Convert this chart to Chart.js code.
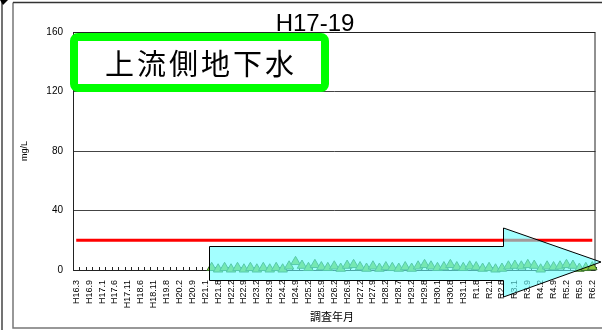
<!DOCTYPE html>
<html>
<head>
<meta charset="utf-8">
<script src="https://cdn.jsdelivr.net/npm/chart.js@4.4.1/dist/chart.umd.min.js"></script>
<style>
  html, body { margin: 0; padding: 0; background: #fff; }
  #wrap { width: 602px; height: 330px; }
</style>
</head>
<body>
<div id="wrap"><canvas id="nitrateChart" width="602" height="330"></canvas></div>
<script>
// visible labels (every other category on the axis)
const tickLabels = ['H16.3','H16.9','H17.1','H17.6','H17.11','H18.6','H18.11','H19.8','H20.2','H20.9',
  'H21.1','H21.8','H22.2','H22.9','H23.2','H23.9','H24.2','H24.9','H25.2','H25.9',
  'H26.2','H26.9','H27.2','H27.9','H28.2','H28.7','H29.2','H29.8','H30.1','H30.8',
  'H31.1','R1.8','R2.1','R2.8','R3.1','R3.9','R4.2','R4.9','R5.2','R5.9','R6.2'];

// measured values mg/L, from the category after H21.1 up to R6.2
const measured = [1.5,0.5,1.5,0.5,1.5,0.5,1.5,0.5,1.5,0.5,1.5,0.5,
  2.5,5.5,3,1.5,3.5,2,1.5,2.5,1,3,
  3.5,2,1,2.5,1,2,1.5,1,2,1,
  2.5,3.5,2.5,1.5,2,3.5,2,1.5,2.5,2,
  1,1.5,0.5,1,2.5,3,2.5,3.5,3,0.5,
  2.5,2,2.5,3.5,3,1,1.5,2];
const noDataCount = 21;     // categories before the first measurement
const standardValue = 20;   // 基準値 line
const yTicks = [0, 40, 80, 120, 160];

const categories = [];
tickLabels.forEach((lbl, k) => {
  categories.push(lbl);
  if (k < tickLabels.length - 1) categories.push('');
});
const seriesData = new Array(noDataCount).fill(null).concat(measured);

const overlay = {
  id: 'overlay',
  beforeDraw(chart) {
    const c = chart.ctx;
    c.save();
    c.fillStyle = '#fff';
    c.fillRect(0, 0, chart.width, chart.height);
    // outer frames
    c.strokeStyle = '#444';
    c.lineWidth = 1.5;
    c.beginPath(); c.moveTo(2, 0); c.lineTo(2, 330); c.stroke();
    c.strokeStyle = '#777';
    c.beginPath(); c.moveTo(13, 2.5); c.lineTo(13, 328); c.lineTo(602, 328); c.stroke();
    c.strokeStyle = '#333';
    c.beginPath(); c.moveTo(13, 2.5); c.lineTo(602, 2.5); c.stroke();
    c.fillStyle = '#000';
    c.beginPath(); c.moveTo(0, 0); c.lineTo(8, 0); c.lineTo(3, 5); c.closePath(); c.fill();
    c.restore();
  },
  beforeDatasetsDraw(chart) {
    const c = chart.ctx, a = chart.chartArea, xs = chart.scales.x;
    c.save();
    c.strokeStyle = '#222';
    c.lineWidth = 1;
    // plot border top/right, axes left/bottom
    c.beginPath();
    c.moveTo(a.left + 0.5, a.top + 0.5); c.lineTo(a.right - 0.5, a.top + 0.5); c.lineTo(a.right - 0.5, a.bottom);
    c.stroke();
    c.beginPath();
    c.moveTo(a.left + 0.5, a.top); c.lineTo(a.left + 0.5, a.bottom + 0.5); c.lineTo(a.right, a.bottom + 0.5);
    c.stroke();
    // small tick marks between categories
    const step = xs.getPixelForValue(1) - xs.getPixelForValue(0);
    for (let i = 0; i <= categories.length; i++) {
      const x = Math.round(xs.getPixelForValue(0) - step / 2 + i * step) + 0.5;
      c.beginPath(); c.moveTo(x, a.bottom); c.lineTo(x, a.bottom - 3); c.stroke();
    }
    c.restore();
  },
  afterDraw(chart) {
    const c = chart.ctx, a = chart.chartArea;
    c.save();
    // title
    c.fillStyle = '#000';
    c.font = '24px "Liberation Sans", Arial, sans-serif';
    c.textAlign = 'center';
    c.textBaseline = 'alphabetic';
    c.fillText('H17-19', 315, 30.5);
    // axis titles
    c.font = '11px "Noto Sans CJK JP", sans-serif';
    c.textBaseline = 'middle';
    c.fillText('調査年月', 332, 317);
    c.save();
    c.translate(25, (a.top + a.bottom) / 2);
    c.rotate(-Math.PI / 2);
    c.font = '9px "Liberation Sans", Arial, sans-serif';
    c.fillText('mg/L', 0, 0);
    c.restore();

    // cyan arrow
    c.beginPath();
    c.moveTo(209.5, 246.5);
    c.lineTo(503.5, 246.5);
    c.lineTo(503.5, 228);
    c.lineTo(601, 262);
    c.lineTo(503.5, 297);
    c.lineTo(503.5, 280.5);
    c.lineTo(209.5, 280.5);
    c.closePath();
    c.fillStyle = 'rgba(102,255,255,0.6)';
    c.fill();
    c.strokeStyle = '#000';
    c.lineWidth = 1;
    c.stroke();

    // green label box
    const bx = 74, by = 37, bw = 251, bh = 51, r = 4;
    c.beginPath();
    c.roundRect(bx, by, bw, bh, r);
    c.fillStyle = '#fff';
    c.fill();
    c.lineWidth = 8;
    c.strokeStyle = '#00ff00';
    c.stroke();
    c.fillStyle = '#000';
    c.font = '29px "Noto Sans CJK JP", sans-serif';
    c.textAlign = 'center';
    c.textBaseline = 'middle';
    const txt = '上流側地下水';
    const adv = 32;
    const cx = bx + bw / 2;
    for (let i = 0; i < txt.length; i++) {
      c.fillText(txt[i], cx + (i - (txt.length - 1) / 2) * adv, by + bh / 2 + 1);
    }
    c.restore();
  }
};

new Chart(document.getElementById('nitrateChart'), {
  type: 'line',
  data: {
    labels: categories,
    datasets: [
      {
        label: '硝酸性窒素',
        data: seriesData,
        borderColor: '#4f8a3c',
        borderWidth: 1,
        pointStyle: 'triangle',
        pointRadius: 5.5,
        pointBackgroundColor: '#8dc63f',
        pointBorderColor: '#3f7a2f',
        pointBorderWidth: 1,
        spanGaps: false,
        clip: false,
        order: 1
      },
      {
        label: '基準値',
        data: categories.map(() => standardValue),
        borderColor: '#ff0000',
        borderWidth: 3,
        pointRadius: 0,
        order: 2
      }
    ]
  },
  options: {
    responsive: false,
    animation: false,
    layout: { padding: { left: 0, top: 32, right: 2, bottom: 0 } },
    plugins: { legend: { display: false }, title: { display: false }, tooltip: { enabled: false } },
    scales: {
      x: {
        offset: true,
        grid: { display: false, drawTicks: false },
        border: { display: false },
        ticks: {
          autoSkip: false,
          minRotation: 90,
          maxRotation: 90,
          padding: 10,
          color: '#000',
          font: { family: '"Liberation Sans", Arial, sans-serif', size: 9 }
        },
        afterFit: s => { s.height = 60; s.paddingLeft = 0; s.paddingRight = 0; }
      },
      y: {
        min: 0,
        max: 160,
        afterBuildTicks: s => { s.ticks = yTicks.map(v => ({ value: v })); },
        grid: { color: '#444', drawTicks: false },
        border: { display: false },
        ticks: {
          padding: 10,
          color: '#000',
          font: { family: '"Liberation Sans", Arial, sans-serif', size: 10 }
        },
        afterFit: s => { s.width = 73; s.paddingTop = 0; s.paddingBottom = 0; }
      }
    }
  },
  plugins: [overlay]
});
</script>
</body>
</html>
